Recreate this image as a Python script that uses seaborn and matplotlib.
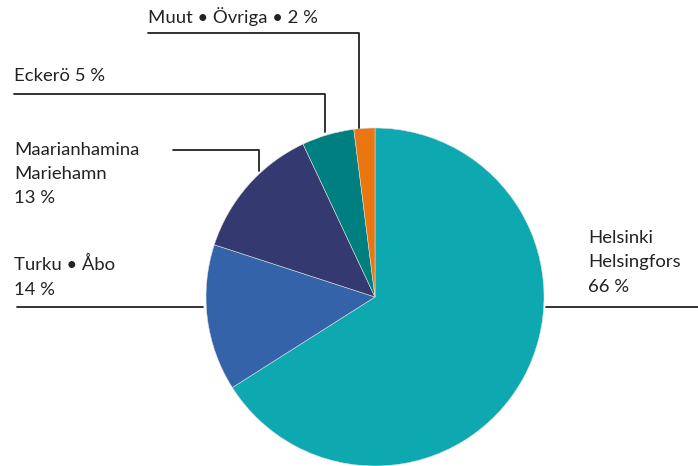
import matplotlib
matplotlib.use("Agg")
import matplotlib.pyplot as plt
import seaborn as sns

categories = ["Helsinki\nHelsingfors", "Turku • Åbo", "Maarianhamina\nMariehamn", "Eckerö", "Muut • Övriga"]
values = [66, 14, 13, 5, 2]
colors = ["#0EA8B0", "#3563AA", "#343A70", "#007F80", "#E9760E"]

sns.set_theme(style="white")
plt.rcParams['font.family'] = ['Lato', 'DejaVu Sans']

W, H = 698, 466
fig = plt.figure(figsize=(W / 100, H / 100), dpi=100)
ax = fig.add_axes([0, 0, 1, 1])

cx, cy, r = 375, H - 297, 169
ax.pie(values, colors=colors, startangle=90, counterclock=False, center=(cx, cy), radius=r,
       wedgeprops=dict(linewidth=0.4, edgecolor="#dddddd"))
ax.set_xlim(0, W)
ax.set_ylim(0, H)
ax.set_aspect('auto')
ax.axis('off')

lc = "#222222"
lw = 1.3
fs = 13.3

def y(p):
    return H - p

labels = [
    f"{categories[0]}\n{values[0]} %",
    f"{categories[1]}\n{values[1]} %",
    f"{categories[2]}\n{values[2]} %",
    f"{categories[3]} {values[3]} %",
    f"{categories[4]} • {values[4]} %",
]

def label(x, base_first, text, step=24.5):
    for i, line in enumerate(text.split("\n")):
        ax.text(x, y(base_first + i * step), line, fontsize=fs, color=lc,
                va="baseline", ha="left")

# Helsinki
ax.plot([546, 698], [y(307), y(307)], color=lc, lw=lw)
label(588, 243, labels[0])
# Turku
ax.plot([17, 203], [y(307), y(307)], color=lc, lw=lw)
label(14, 270, labels[1], step=25)
# Maarianhamina
ax.plot([173, 259, 259], [y(150), y(150), y(171)], color=lc, lw=lw)
label(14, 155, labels[2], step=24)
# Eckerö
ax.plot([14, 325, 325], [y(94), y(94), y(132)], color=lc, lw=lw)
label(14, 81, labels[3])
# Muut
ax.plot([148, 359, 359], [y(33), y(33), y(128)], color=lc, lw=lw)
label(148, 23, labels[4])

fig.savefig("out.png", dpi=100)
